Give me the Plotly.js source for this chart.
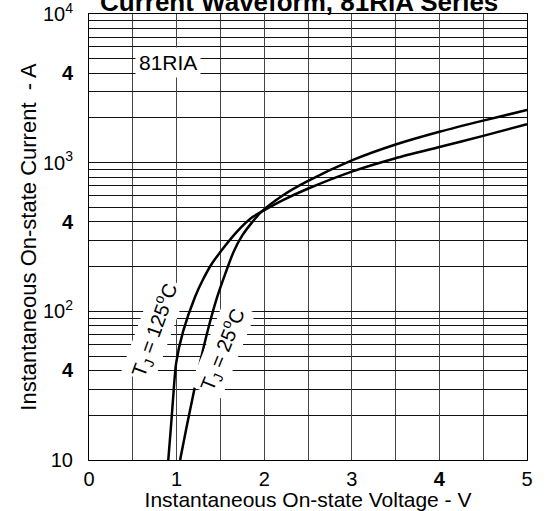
<!DOCTYPE html>
<html>
<head>
<meta charset="utf-8">
<script src="https://cdn.plot.ly/plotly-3.0.1.min.js"></script>
<style>
  html, body { margin: 0; padding: 0; background: #fff; }
  #chart { width: 557px; height: 511px; }
</style>
</head>
<body>
<div id="chart"></div>
<script>
// ---- data ----
const voltage125 = [0.905, 0.935, 0.962, 0.995, 1.075, 1.21, 1.30, 1.40, 1.55, 1.69, 1.87, 1.97, 2.22, 2.49, 3.0, 3.5, 4.0, 4.5, 5.0];
const current125 = [10, 16.6, 27, 45, 73.5, 125, 163, 208, 274, 344, 432, 468, 562, 665, 871, 1072, 1274, 1514, 1812];

const voltage25 = [1.04, 1.11, 1.19, 1.27, 1.36, 1.46, 1.56, 1.65, 1.75, 1.85, 1.97, 2.22, 2.49, 3.0, 3.5, 4.0, 4.5, 5.0];
const current25 = [10, 16.2, 27.5, 45.7, 76, 123, 182, 251, 324, 389, 468, 606, 748, 1035, 1324, 1614, 1919, 2259];

const xTickVals = [0, 1, 2, 3, 4, 5];
const xTickText = ['0', '1', '2', '3', '<b>4</b>', '5'];
const yTickVals = [10, 40, 100, 400, 1000, 4000, 10000];
const yTickText = ['10', '<b>4</b>', '10<sup>2</sup>', '<b>4</b>', '10<sup>3</sup>', '<b>4</b>', '10<sup>4</sup>'];

const titleText = 'Current Waveform, 81RIA Series';
const seriesLabel = '81RIA';
const label125 = 'T<sub>J</sub> = 125<sup>o</sup>C';
const label25 = 'T<sub>J</sub> = 25<sup>o</sup>C';

// minor grid values for the log axis (2..9 of each decade)
const yMinor = [];
for (const dec of [10, 100, 1000]) {
  for (let d = 2; d <= 9; d++) yMinor.push(d * dec);
}

const FONT = 'Liberation Sans, Arial, sans-serif';

const traces = [
  { x: voltage125, y: current125, mode: 'lines', line: { color: '#000', width: 2.5, shape: 'spline', smoothing: 0.7 }, hoverinfo: 'skip', showlegend: false },
  { x: voltage25, y: current25, mode: 'lines', line: { color: '#000', width: 2.5, shape: 'spline', smoothing: 0.7 }, hoverinfo: 'skip', showlegend: false }
];

const layout = {
  width: 557, height: 511,
  margin: { l: 89, r: 30, t: 14, b: 51, pad: 0 },
  paper_bgcolor: '#fff', plot_bgcolor: '#fff',
  font: { family: FONT, color: '#000', size: 20 },
  showlegend: false,
  xaxis: {
    range: [0, 5], tickmode: 'array', tickvals: xTickVals, ticktext: xTickText,
    showgrid: true, gridcolor: '#444', gridwidth: 1,
    minor: { dtick: 0.5, tick0: 0, showgrid: true, gridcolor: '#444', gridwidth: 1, ticks: '' },
    zeroline: false, showline: true, linecolor: '#000', linewidth: 1, mirror: true,
    ticks: '', ticklabelstandoff: 1,
    tickfont: { size: 20, family: FONT, color: '#000' },
    title: { text: 'Instantaneous On-state Voltage - V', font: { size: 21, family: FONT, color: '#000' }, standoff: 0 }
  },
  yaxis: {
    type: 'log', range: [0.9999, 4.0001], tickmode: 'array', tickvals: yTickVals, ticktext: yTickText,
    showgrid: true, gridcolor: '#111', gridwidth: 1,
    minor: { tickmode: 'array', tickvals: yMinor, showgrid: true, gridcolor: '#111', gridwidth: 1, ticks: '' },
    zeroline: false, showline: true, linecolor: '#000', linewidth: 1, mirror: true,
    ticks: '', ticklabelstandoff: 11, ticklabeloverflow: 'allow',
    tickfont: { size: 20, family: FONT, color: '#000' },
    title: { text: 'Instantaneous On-state Current&nbsp;&nbsp;- A', font: { size: 22, family: FONT, color: '#000' }, standoff: 0 }
  },
  annotations: [
    { xref: 'paper', yref: 'paper', x: 0.48, y: 1, yanchor: 'bottom', xanchor: 'center', yshift: -5,
      text: '<b>' + titleText + '</b>', showarrow: false, font: { size: 26, family: FONT, color: '#000' } },
    { xref: 'x', yref: 'y', x: 0.9, y: 3.677, text: seriesLabel, showarrow: false,
      bgcolor: '#fff', borderpad: 3, font: { size: 21, family: FONT, color: '#000' } },
    { xref: 'x', yref: 'y', x: 0.753, y: 1.875, text: label125, showarrow: false, textangle: -70,
      bgcolor: '#fff', borderpad: 2, font: { size: 20, family: FONT, color: '#000' } },
    { xref: 'x', yref: 'y', x: 1.53, y: 1.74, text: label25, showarrow: false, textangle: -68,
      bgcolor: '#fff', borderpad: 2, font: { size: 20, family: FONT, color: '#000' } }
  ]
};

Plotly.newPlot('chart', traces, layout, { staticPlot: true, displayModeBar: false });
</script>
</body>
</html>
